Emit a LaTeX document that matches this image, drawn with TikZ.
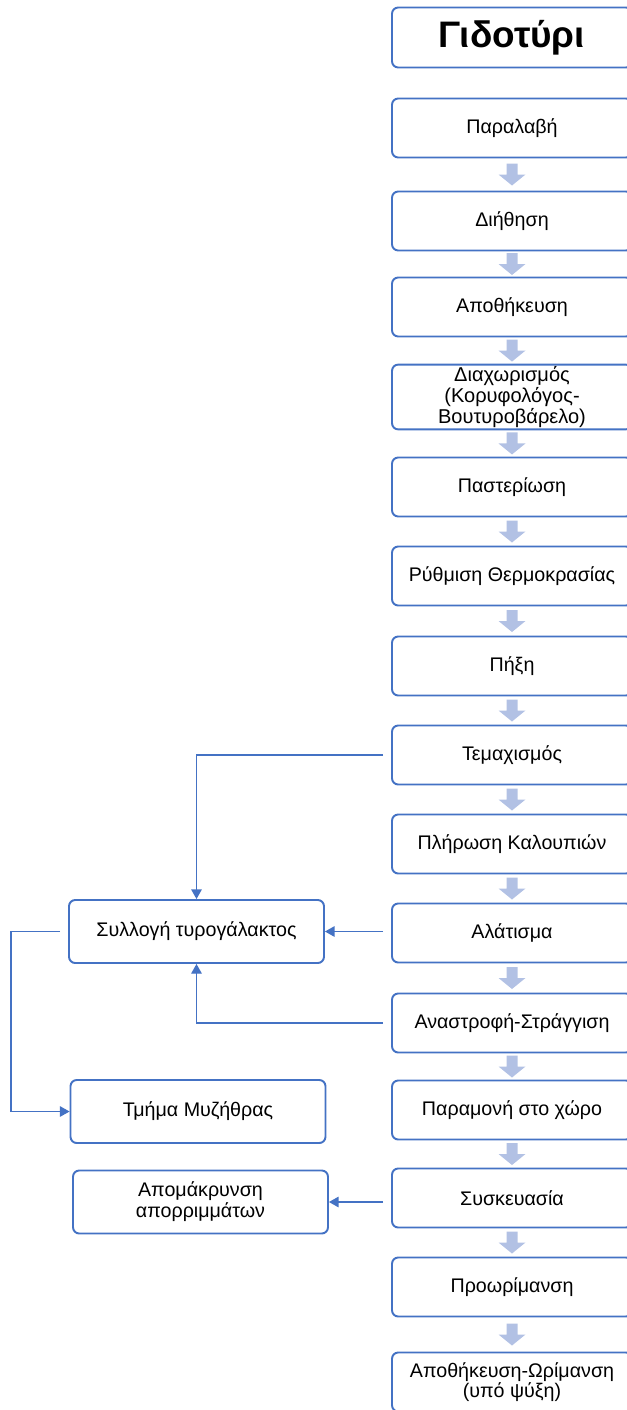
\documentclass[tikz,border=0pt]{standalone}
\usepackage{fontspec}
\setmainfont{Liberation Sans}
\usetikzlibrary{arrows.meta}
\definecolor{boxblue}{RGB}{68,114,196}
\definecolor{arrowfill}{RGB}{178,193,228}
\tikzset{
  stepbox/.style={draw=boxblue, line width=1.1pt, rounded corners=3.5pt, fill=white,
    minimum width=4.8cm, minimum height=1.18cm, align=center, inner sep=1pt,
    font=\fontsize{11.2}{12}\selectfont},
  sidebox/.style={stepbox, minimum width=5.1cm, minimum height=1.26cm},
  link/.style={draw=boxblue, line width=0.7pt, -{Triangle[length=5.5pt,width=6pt]}, shorten <=4.5pt},
  flowarrow/.pic={\fill[arrowfill] (-5.5,-11) -- (5.5,-11) -- (5.5,0) -- (13.5,0) -- (0,11) -- (-13.5,0) -- (-5.5,0) -- cycle;}
}
\begin{document}
\begin{tikzpicture}[x=0.02cm, y=-0.02cm]
\useasboundingbox (0,0) rectangle (626,1410);

% main line
\node[stepbox, minimum height=1.2cm, font=\fontsize{21}{24}\selectfont\bfseries] (title) at (512,37.5) {Γιδοτύρι};
\node[stepbox] (s1) at (512,128) {Παραλαβή};
\node[stepbox] (s2) at (512,221) {Διήθηση};
\node[stepbox] (s3) at (512,307) {Αποθήκευση};
\node[stepbox, font=\fontsize{11.4}{9.7}\selectfont] (s4) at (512,397) {Διαχωρισμός\\(Κορυφολόγος-\\Βουτυροβάρελο)};
\node[stepbox] (s5) at (512,487) {Παστερίωση};
\node[stepbox] (s6) at (512,576) {Ρύθμιση Θερμοκρασίας};
\node[stepbox] (s7) at (512,666) {Πήξη};
\node[stepbox] (s8) at (512,755) {Τεμαχισμός};
\node[stepbox] (s9) at (512,844) {Πλήρωση Καλουπιών};
\node[stepbox] (s10) at (512,933) {Αλάτισμα};
\node[stepbox] (s11) at (512,1023) {Αναστροφή-Στράγγιση};
\node[stepbox] (s12) at (512,1110) {Παραμονή στο χώρο};
\node[stepbox] (s13) at (512,1198) {Συσκευασία};
\node[stepbox] (s14) at (512,1287) {Προωρίμανση};
\node[stepbox, font=\fontsize{11.2}{11.3}\selectfont] (s15) at (512,1382) {Αποθήκευση-Ωρίμανση\\(υπό ψύξη)};

\foreach \i [count=\j from 2] in {1,...,14} {
  \path (s\i.south) -- (s\j.north) coordinate[midway] (m\i);
  \pic at (m\i) {flowarrow};
}

% side branch
\node[sidebox] (whey) at (196.5,931.5) {Συλλογή τυρογάλακτος};
\node[sidebox] (myz) at (198,1111.5) {Τμήμα Μυζήθρας};
\node[sidebox] (waste) at (200.5,1202) {Απομάκρυνση\\απορριμμάτων};

\draw[link] (s8.west) -| (whey.north);
\draw[link] (s10.west |- whey.east) -- (whey.east);
\draw[link] (s11.west) -| (whey.south);
\draw[link] (whey.west) -- ++(-57,0) |- (myz.west);
\draw[link] (s13.west |- waste.east) -- (waste.east);
\end{tikzpicture}
\end{document}
